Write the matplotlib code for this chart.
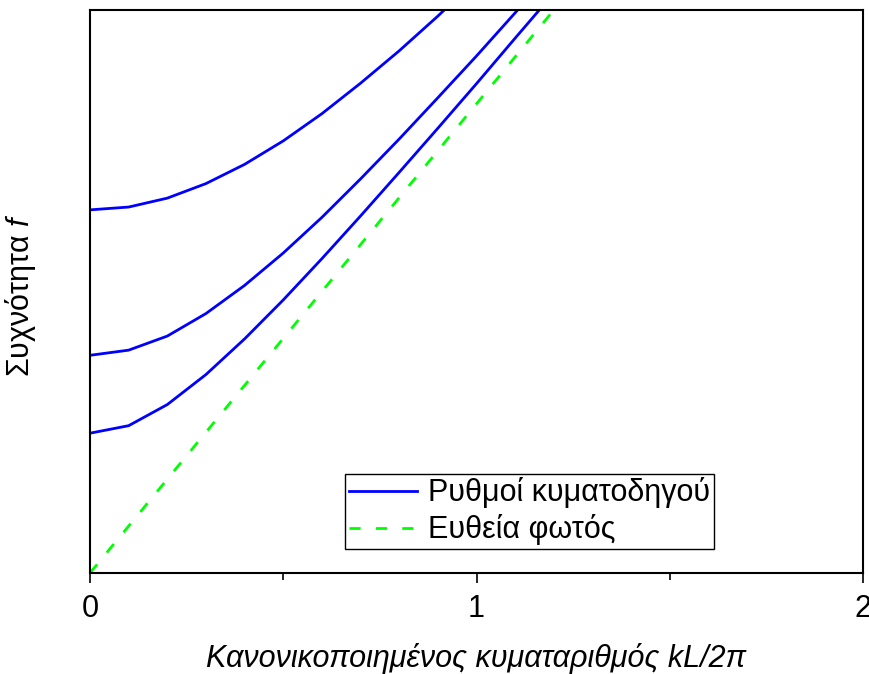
import matplotlib
matplotlib.use("Agg")
import matplotlib.pyplot as plt

plt.rcParams['font.family'] = ['Liberation Sans', 'DejaVu Sans']
plt.rcParams['mathtext.fontset'] = 'custom'
plt.rcParams['mathtext.rm'] = 'Liberation Sans'
plt.rcParams['mathtext.it'] = 'Liberation Sans:italic'
plt.rcParams['lines.scale_dashes'] = False

# Data
k_values = [0.0, 0.1, 0.2, 0.3, 0.4, 0.5, 0.6, 0.7, 0.8, 0.9, 1.0, 1.1, 1.2]
mode1 = [0.298, 0.314, 0.359, 0.423, 0.499, 0.582, 0.670, 0.761, 0.854, 0.948, 1.043, 1.140, 1.236]
mode2 = [0.464, 0.475, 0.505, 0.553, 0.613, 0.682, 0.758, 0.840, 0.925, 1.013, 1.102, 1.194, 1.287]
k_mode3 = [0.0, 0.1, 0.2, 0.3, 0.4, 0.5, 0.6, 0.7, 0.8, 0.9, 1.0]
mode3 = [0.774, 0.780, 0.799, 0.830, 0.871, 0.921, 0.979, 1.044, 1.113, 1.187, 1.265]
light_k = [0.0, 1.2]
light_f = [0.0, 1.2]

x_ticks = [0, 1, 2]
x_minor = [0.5, 1.5]
label_modes = "Ρυθμοί κυματοδηγού"
label_light = "Ευθεία φωτός"
xlabel = "Κανονικοποιημένος κυματαριθμός kL/2π"
ylabel = "Συχνότητα $f$"

fig = plt.figure(figsize=(8.69, 6.74), dpi=100)
ax = fig.add_axes([90/869, 1-573/674, 773/869, 563/674])

blue = '#0000ff'
green = '#00ff00'
lw = 2.0
l1, = ax.plot(k_values, mode1, color=blue, lw=lw, label=label_modes)
ax.plot(k_values, mode2, color=blue, lw=lw)
ax.plot(k_mode3, mode3, color=blue, lw=lw)
l2, = ax.plot(light_k, light_f, color=green, lw=lw, linestyle=(0, (8, 11)), label=label_light)

ax.set_xlim(0, 2)
ax.set_ylim(0, 1.2)
ax.set_xticks(x_ticks)
ax.set_xticklabels([str(t) for t in x_ticks])
ax.set_xticks(x_minor, minor=True)
ax.set_yticks([])
ax.tick_params(axis='x', which='major', direction='out', length=7, width=1.2, labelsize=22, pad=8)
ax.tick_params(axis='x', which='minor', direction='out', length=5, width=1.2)
for s in ax.spines.values():
    s.set_linewidth(1.5)

ax.set_xlabel(xlabel, fontsize=22, style='italic', labelpad=14)
ax.set_ylabel(ylabel, fontsize=22, labelpad=0)
ax.yaxis.set_label_coords(-(90-38)/773, (573-295)/563)

leg = ax.legend(handles=[l1, l2], loc='lower left',
                bbox_to_anchor=((345-90)/773, (573-549)/563),
                borderaxespad=0, fancybox=False, frameon=True,
                edgecolor='black', framealpha=1, fontsize=22,
                handlelength=2.25, handletextpad=0.36, labelspacing=0.2,
                borderpad=0.12)
leg.get_frame().set_linewidth(1.0)

fig.savefig('out.png', dpi=100)
